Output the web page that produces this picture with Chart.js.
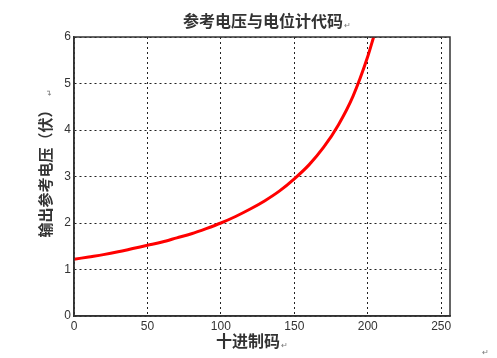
<!DOCTYPE html>
<html><head><meta charset="utf-8">
<script src="https://cdn.jsdelivr.net/npm/chart.js@4"></script>
<style>html,body{margin:0;padding:0;background:#fff}#wrap{width:497px;height:358px}</style>
</head><body><div id="wrap"><canvas id="c" width="497" height="358"></canvas></div>
<script>
const title = "参考电压与电位计代码";
const xTitle = "十进制码";
const yTitle = "输出参考电压（伏）";
const codes = [0,10,20,30,40,50,60,70,80,90,100,110,120,130,140,150,160,170,180,190,200,204];
const volts = [1.22,1.27,1.32,1.38,1.45,1.52,1.59,1.68,1.77,1.88,2.00,2.14,2.30,2.48,2.69,2.95,3.25,3.63,4.11,4.73,5.58,6.00];
const xTicks = [0,50,100,150,200,250];
const yTicks = [0,1,2,3,4,5,6];

const tickFont = {family:"'Liberation Sans', Arial, sans-serif", size:12};
const cjk = "'Noto Sans CJK SC', sans-serif";

const labels = {
  id:'labels',
  afterDatasetsDraw(chart){
    const ctx = chart.ctx, a = chart.chartArea;
    ctx.save();
    ctx.strokeStyle = '#333'; ctx.lineWidth = 1.5; ctx.setLineDash([]);
    ctx.strokeRect(a.left, a.top, a.right - a.left, a.bottom - a.top);
    ctx.fillStyle = '#333';
    ctx.font = "bold 16px " + cjk;
    ctx.textAlign = 'center'; ctx.textBaseline = 'middle';
    ctx.fillText(title, 263, 21);
    ctx.fillText(xTitle, 248, 341);
    ctx.font = "bold 15px " + cjk;
    ctx.save();
    ctx.translate(45, 170); ctx.rotate(-Math.PI/2);
    ctx.fillText(yTitle, 0, 0);
    ctx.restore();
    ctx.fillStyle = '#777'; ctx.font = "8px " + cjk;
    ctx.fillText("↵", 347, 25);
    ctx.fillText("↵", 284, 345);
    ctx.fillText("↵", 485, 352);
    ctx.save(); ctx.translate(49, 92); ctx.rotate(-Math.PI/2); ctx.fillText("↵",0,0); ctx.restore();
    ctx.restore();
  }
};

new Chart(document.getElementById('c'), {
  type:'line',
  data:{datasets:[{data: codes.map((x,i)=>({x, y: volts[i]})), borderColor:'#ff0000', borderWidth:3, pointRadius:0, tension:0.4, cubicInterpolationMode:'monotone', fill:false}]},
  options:{
    responsive:false, animation:false,
    layout:{padding:{left:0, top:37, right:47, bottom:0}},
    plugins:{legend:{display:false}, tooltip:{enabled:false}, title:{display:false}},
    scales:{
      x:{type:'linear', min:0, max:256,
        afterBuildTicks(s){ s.ticks = xTicks.map(v=>({value:v})); },
        afterFit(s){ s.height = 42; },
        ticks:{font:tickFont, color:'#333', padding:3, maxRotation:0, autoSkip:false},
        grid:{color:'#222', lineWidth:1, drawTicks:false},
        border:{display:true, color:'#333', width:1.5, dash:[2,3]}},
      y:{type:'linear', min:0, max:6,
        afterBuildTicks(s){ s.ticks = yTicks.map(v=>({value:v})); },
        afterFit(s){ s.width = 74; },
        ticks:{font:tickFont, color:'#333', padding:3, autoSkip:false},
        grid:{color:'#222', lineWidth:1, drawTicks:false},
        border:{display:true, color:'#333', width:1.5, dash:[2,3]}}
    }
  },
  plugins:[labels]
});
</script></body></html>
